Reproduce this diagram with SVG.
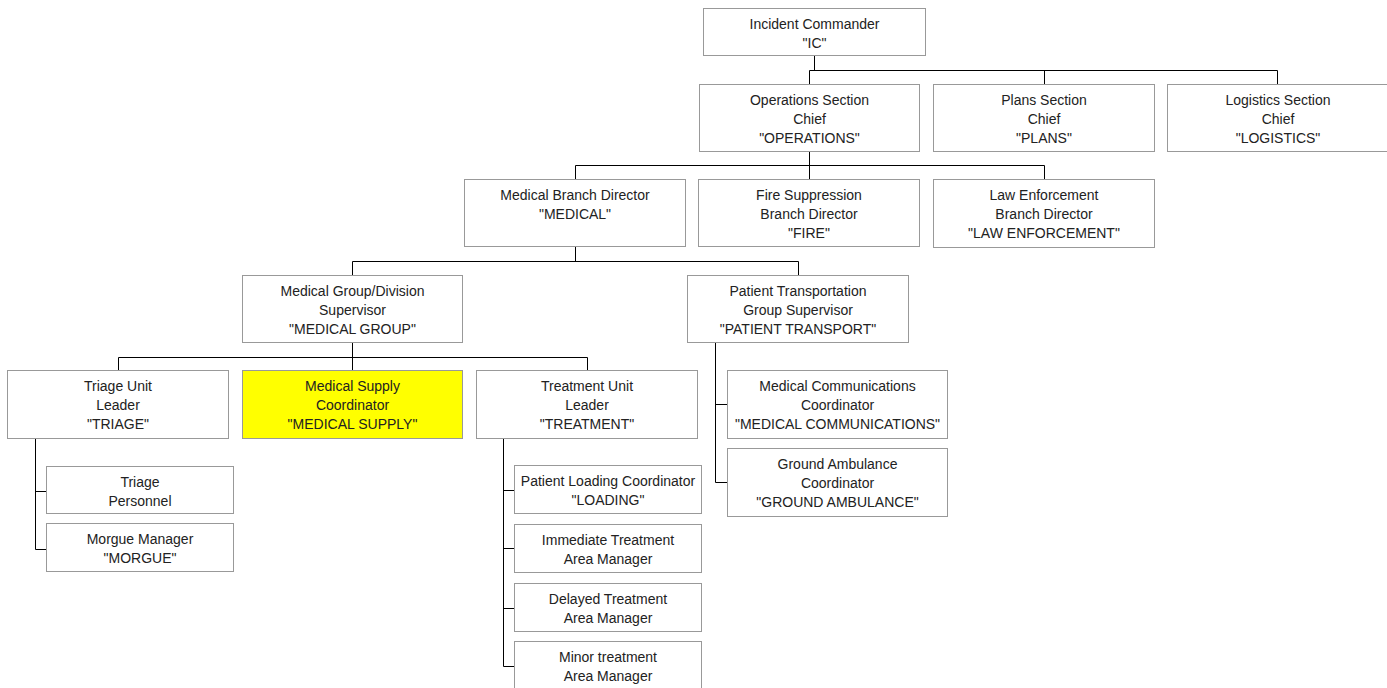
<svg xmlns="http://www.w3.org/2000/svg" width="1387" height="688" viewBox="0 0 1387 688">
<style>
.box{fill:#fff;stroke:#999;stroke-width:1}
.hl{fill:#ffff00}
.t{font-family:"Liberation Sans",Arial,sans-serif;font-size:14px;fill:#222;text-anchor:middle}
.c{fill:none;stroke:#000;stroke-width:1}
</style>
<rect width="1387" height="688" fill="#fff"/>
<g id="connectors" class="c">
<path d="M814.5 56V70.5M809.5 70.5H1277.5M809.5 70.5V84M1044.5 70.5V84M1277.5 70.5V84"/>
<path d="M809.5 152V165.5M575.5 165.5H1044.5M575.5 165.5V179M809.5 165.5V179M1044.5 165.5V179"/>
<path d="M575.5 247V261.5M352.5 261.5H798.5M352.5 261.5V275M798.5 261.5V275"/>
<path d="M352.5 343V357.5M118.5 357.5H587.5M118.5 357.5V370M352.5 357.5V370M587.5 357.5V370"/>
<path d="M35.5 439V549.5M35.5 491.5H46M35.5 549.5H46"/>
<path d="M503.5 439V666.5M503.5 490.5H514M503.5 548.5H514M503.5 608.5H514M503.5 666.5H514"/>
<path d="M715.5 343V482.5M715.5 404.5H727M715.5 482.5H727"/>
</g>
<g id="ic"><rect class="box" x="703.5" y="8.5" width="222" height="47"/><text class="t" x="814.5" y="28.5">Incident Commander<tspan x="814.5" dy="19">"IC"</tspan></text></g>
<g id="ops"><rect class="box" x="699.5" y="84.5" width="220" height="67"/><text class="t" x="809.5" y="104.5">Operations Section<tspan x="809.5" dy="19">Chief</tspan><tspan x="809.5" dy="19">"OPERATIONS"</tspan></text></g>
<g id="plans"><rect class="box" x="933.5" y="84.5" width="221" height="67"/><text class="t" x="1044" y="104.5">Plans Section<tspan x="1044" dy="19">Chief</tspan><tspan x="1044" dy="19">"PLANS"</tspan></text></g>
<g id="logistics"><rect class="box" x="1167.5" y="84.5" width="221" height="67"/><text class="t" x="1278" y="104.5">Logistics Section<tspan x="1278" dy="19">Chief</tspan><tspan x="1278" dy="19">"LOGISTICS"</tspan></text></g>
<g id="medical"><rect class="box" x="464.5" y="179.5" width="221" height="67"/><text class="t" x="575" y="199.5">Medical Branch Director<tspan x="575" dy="19">"MEDICAL"</tspan></text></g>
<g id="fire"><rect class="box" x="698.5" y="179.5" width="221" height="67"/><text class="t" x="809" y="199.5">Fire Suppression<tspan x="809" dy="19">Branch Director</tspan><tspan x="809" dy="19">"FIRE"</tspan></text></g>
<g id="law"><rect class="box" x="933.5" y="179.5" width="221" height="68"/><text class="t" x="1044" y="199.5">Law Enforcement<tspan x="1044" dy="19">Branch Director</tspan><tspan x="1044" dy="19">"LAW ENFORCEMENT"</tspan></text></g>
<g id="medgroup"><rect class="box" x="242.5" y="275.5" width="220" height="67"/><text class="t" x="352.5" y="295.5">Medical Group/Division<tspan x="352.5" dy="19">Supervisor</tspan><tspan x="352.5" dy="19">"MEDICAL GROUP"</tspan></text></g>
<g id="transport"><rect class="box" x="687.5" y="275.5" width="221" height="67"/><text class="t" x="798" y="295.5">Patient Transportation<tspan x="798" dy="19">Group Supervisor</tspan><tspan x="798" dy="19">"PATIENT TRANSPORT"</tspan></text></g>
<g id="triage"><rect class="box" x="7.5" y="370.5" width="221" height="68"/><text class="t" x="118" y="390.5">Triage Unit<tspan x="118" dy="19">Leader</tspan><tspan x="118" dy="19">"TRIAGE"</tspan></text></g>
<g id="supply"><rect class="box hl" x="242.5" y="370.5" width="220" height="68"/><text class="t" x="352.5" y="390.5">Medical Supply<tspan x="352.5" dy="19">Coordinator</tspan><tspan x="352.5" dy="19">"MEDICAL SUPPLY"</tspan></text></g>
<g id="treatment"><rect class="box" x="476.5" y="370.5" width="221" height="68"/><text class="t" x="587" y="390.5">Treatment Unit<tspan x="587" dy="19">Leader</tspan><tspan x="587" dy="19">"TREATMENT"</tspan></text></g>
<g id="comms"><rect class="box" x="727.5" y="370.5" width="220" height="68"/><text class="t" x="837.5" y="390.5">Medical Communications<tspan x="837.5" dy="19">Coordinator</tspan><tspan x="837.5" dy="19">"MEDICAL COMMUNICATIONS"</tspan></text></g>
<g id="ambulance"><rect class="box" x="727.5" y="448.5" width="220" height="68"/><text class="t" x="837.5" y="468.5">Ground Ambulance<tspan x="837.5" dy="19">Coordinator</tspan><tspan x="837.5" dy="19">"GROUND AMBULANCE"</tspan></text></g>
<g id="personnel"><rect class="box" x="46.5" y="466.5" width="187" height="47"/><text class="t" x="140" y="486.5">Triage<tspan x="140" dy="19">Personnel</tspan></text></g>
<g id="morgue"><rect class="box" x="46.5" y="523.5" width="187" height="48"/><text class="t" x="140" y="543.5">Morgue Manager<tspan x="140" dy="19">"MORGUE"</tspan></text></g>
<g id="loading"><rect class="box" x="514.5" y="465.5" width="187" height="48"/><text class="t" x="608" y="485.5">Patient Loading Coordinator<tspan x="608" dy="19">"LOADING"</tspan></text></g>
<g id="immediate"><rect class="box" x="514.5" y="524.5" width="187" height="48"/><text class="t" x="608" y="544.5">Immediate Treatment<tspan x="608" dy="19">Area Manager</tspan></text></g>
<g id="delayed"><rect class="box" x="514.5" y="583.5" width="187" height="48"/><text class="t" x="608" y="603.5">Delayed Treatment<tspan x="608" dy="19">Area Manager</tspan></text></g>
<g id="minor"><rect class="box" x="514.5" y="641.5" width="187" height="48"/><text class="t" x="608" y="661.5">Minor treatment<tspan x="608" dy="19">Area Manager</tspan></text></g>
</svg>
